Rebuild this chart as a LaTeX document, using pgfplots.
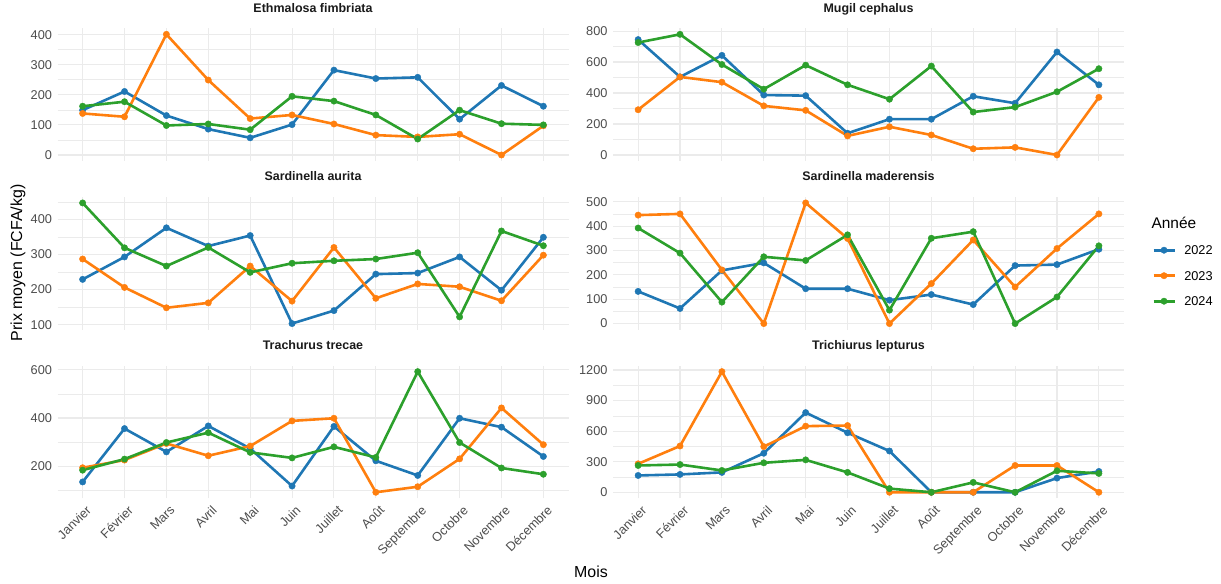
\documentclass[border=0pt]{standalone}
\usepackage{pgfplots}
\pgfplotsset{compat=1.18}
\usepackage{pgfplotstable}
\usepackage{fontspec}
\setmainfont{Liberation Sans}

\definecolor{c22}{HTML}{1F77B4}
\definecolor{c23}{HTML}{FF7F0E}
\definecolor{c24}{HTML}{2CA02C}
\definecolor{gridc}{HTML}{EBEBEB}
\definecolor{tickc}{HTML}{4D4D4D}
\definecolor{titc}{HTML}{1A1A1A}

% prix moyen par mois (0 = Janvier ... 11 = Decembre)
\pgfplotstableread{
m y22 y23 y24
0 149 138 162
1 211 127 177
2 131 401 98
3 86 249 103
4 57 121 84
5 101 133 195
6 282 103 179
7 254 66 133
8 258 60 53
9 119 69 149
10 231 0 104
11 162 97 100
}\tEth
\pgfplotstableread{
m y22 y23 y24
0 745 292 726
1 504 504 779
2 643 470 584
3 387 317 425
4 383 288 580
5 140 123 453
6 231 182 360
7 231 129 574
8 379 40 277
9 334 49 309
10 665 0 408
11 453 372 557
}\tMug
\pgfplotstableread{
m y22 y23 y24
0 229 287 447
1 293 206 319
2 376 148 267
3 324 162 320
4 354 267 249
5 103 167 275
6 140 320 282
7 244 175 287
8 247 216 305
9 293 208 122
10 198 168 367
11 349 298 325
}\tAur
\pgfplotstableread{
m y22 y23 y24
0 132 445 392
1 62 450 289
2 218 220 88
3 249 0 274
4 143 495 259
5 143 349 364
6 96 0 55
7 119 164 350
8 78 343 377
9 238 150 0
10 242 308 109
11 305 450 319
}\tMad
\pgfplotstableread{
m y22 y23 y24
0 134 193 183
1 356 225 229
2 259 294 298
3 367 243 339
4 273 283 257
5 117 388 234
6 365 399 280
7 222 91 236
8 161 114 593
9 399 230 298
10 362 442 192
11 240 289 166
}\tTra
\pgfplotstableread{
m y22 y23 y24
0 165 279 263
1 175 454 272
2 195 1184 214
3 383 448 289
4 782 649 318
5 584 655 195
6 405 0 36
7 0 0 0
8 0 0 97
9 0 263 0
10 139 263 211
11 204 0 185
}\tTri

\pgfplotsset{
  facet/.style={
    scale only axis, width=511bp, height=132.7bp, anchor=south west,
    xmin=-0.6, xmax=11.6, xtick={0,...,11}, xticklabels={},
    axis line style={draw=none}, major tick length=0, minor tick length=0,
    xmajorgrids, ymajorgrids, yminorgrids,
    major grid style={gridc, line width=1.1bp},
    minor grid style={gridc, line width=0.55bp},
    tick label style={font=\fontsize{12.8}{14}\selectfont, text=tickc},
    /pgf/number format/assume math mode=true,
    /pgf/number format/1000 sep={},
    scaled y ticks=false,
    yticklabel style={xshift=-2bp},
    title style={font=\bfseries\fontsize{12.5}{14}\selectfont, text=titc,
      at={(0.5,1)}, anchor=base, yshift=10bp},
    every axis plot/.append style={line width=2.6bp, line join=round,
      mark=*, mark size=3.2bp, mark options={solid, line width=0.4bp}},
  },
  bottomrow/.style={
    xticklabels={Janvier,Février,Mars,Avril,Mai,Juin,Juillet,Août,Septembre,Octobre,Novembre,Décembre},
    xticklabel style={rotate=45, anchor=north east, yshift=-3bp, xshift=1bp},
  },
}

\begin{document}
\begin{tikzpicture}
\useasboundingbox (0,0) rectangle (1221bp,584bp);

\begin{axis}[facet, at={(57.5bp,423bp)}, title={Ethmalosa fimbriata},
  ymin=-20, ymax=421, ytick={0,100,...,400}, minor ytick={50,150,...,350}]
\addplot[c22] table[x=m,y=y22]{\tEth};
\addplot[c23] table[x=m,y=y23]{\tEth};
\addplot[c24] table[x=m,y=y24]{\tEth};
\end{axis}

\begin{axis}[facet, at={(613bp,423bp)}, title={Mugil cephalus},
  ymin=-39, ymax=818, ytick={0,200,...,800}, minor ytick={100,300,...,700}]
\addplot[c22] table[x=m,y=y22]{\tMug};
\addplot[c23] table[x=m,y=y23]{\tMug};
\addplot[c24] table[x=m,y=y24]{\tMug};
\end{axis}

\begin{axis}[facet, at={(57.5bp,254.4bp)}, title={Sardinella aurita},
  ymin=85.8, ymax=464.2, ytick={100,200,...,400}, minor ytick={150,250,350,450}]
\addplot[c22] table[x=m,y=y22]{\tAur};
\addplot[c23] table[x=m,y=y23]{\tAur};
\addplot[c24] table[x=m,y=y24]{\tAur};
\end{axis}

\begin{axis}[facet, at={(613bp,254.4bp)}, title={Sardinella maderensis},
  ymin=-24.75, ymax=519.75, ytick={0,100,...,500}, minor ytick={50,150,...,450},
  legend style={at={(1.0548,0.645)}, anchor=north west, draw=none, fill=none,
    inner sep=0pt, font=\fontsize{12.8}{14}\selectfont,
    nodes={inner sep=1.5bp, text height=9bp, text depth=0bp},
    row sep=13.5bp, column sep=7bp},
  legend cell align=left,
  legend image code/.code={\draw[mark repeat=2,mark phase=2,#1]
    plot coordinates {(0bp,0bp) (10.5bp,0bp) (21bp,0bp)};}]
\addplot[c22] table[x=m,y=y22]{\tMad};
\addplot[c23] table[x=m,y=y23]{\tMad};
\addplot[c24] table[x=m,y=y24]{\tMad};
\legend{2022,2023,2024}
\end{axis}

\begin{axis}[facet, bottomrow, at={(57.5bp,85.7bp)}, title={Trachurus trecae},
  ymin=65.9, ymax=618.1, ytick={200,400,600}, minor ytick={100,300,500}]
\addplot[c22] table[x=m,y=y22]{\tTra};
\addplot[c23] table[x=m,y=y23]{\tTra};
\addplot[c24] table[x=m,y=y24]{\tTra};
\end{axis}

\begin{axis}[facet, bottomrow, at={(613bp,85.7bp)}, title={Trichiurus lepturus},
  ymin=-59.2, ymax=1243.2, ytick={0,300,...,1200}, minor ytick={150,450,...,1050}]
\addplot[c22] table[x=m,y=y22]{\tTri};
\addplot[c23] table[x=m,y=y23]{\tTri};
\addplot[c24] table[x=m,y=y24]{\tTri};
\end{axis}

\node[anchor=west, font=\fontsize{15.5}{17}\selectfont] at (1148bp,361.3bp) {Année};
\node[font=\fontsize{16}{18}\selectfont] at (591bp,12bp) {Mois};
\node[rotate=90, font=\fontsize{16}{18}\selectfont] at (18bp,321bp) {Prix moyen (FCFA/kg)};
\end{tikzpicture}
\end{document}
